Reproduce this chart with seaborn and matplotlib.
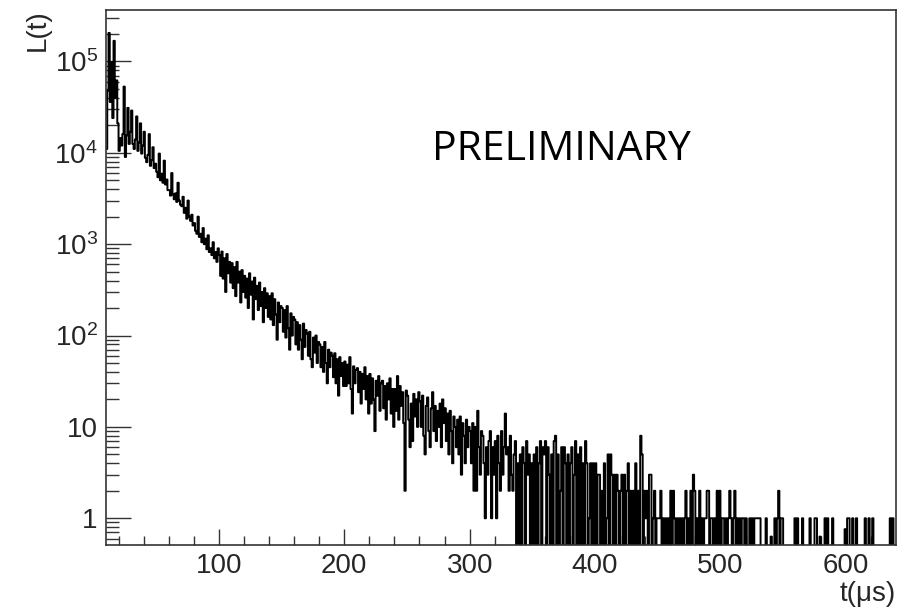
import numpy as np
import pandas as pd
import matplotlib
matplotlib.use("Agg")
import matplotlib.pyplot as plt
import seaborn as sns
from matplotlib.ticker import FixedLocator, NullFormatter

# ---------------- data (1 us bins starting at t = 10 us) ----------------
t_first_bin = 10
bin_width = 1

counts_010_049 = [
    11000, 48000, 205000, 36000, 98000, 24000, 168000, 40000, 62000, 21000,
    10500, 14500, 12000, 16000, 53000, 9000, 15500, 31000, 12500, 17000,
    29000, 12500, 11000, 14000, 25000, 10500, 13000, 21000, 9800, 12000,
    17000, 8800, 7900, 9500, 16000, 7200, 8300, 11500, 6800, 7600,
]
counts_050_099 = [
    6200, 5400, 9800, 5000, 5900, 4700, 8200, 4500, 5100, 3900,
    3900, 3400, 6000, 3500, 3100, 3600, 2900, 4700, 3000, 2700,
    2600, 3300, 2200, 2500, 1900, 3000, 2000, 1800, 2100, 1600,
    1700, 1400, 1300, 2000, 1200, 1300, 1050, 1500, 1000, 1150,
    880, 1250, 820, 900, 760, 1050, 700, 820, 640, 900,
]
counts_100_149 = [
    760, 450, 830, 420, 700, 300, 780, 480, 640, 380,
    620, 330, 560, 270, 640, 380, 500, 230, 520, 300,
    450, 260, 420, 200, 480, 280, 390, 150, 430, 250,
    350, 190, 380, 210, 300, 140, 330, 200, 290, 160,
    270, 150, 290, 130, 250, 170, 90, 230, 140, 210,
]
counts_150_199 = [
    200, 110, 190, 95, 210, 120, 70, 175, 100, 160,
    150, 80, 140, 70, 130, 90, 55, 135, 75, 115,
    105, 60, 110, 55, 45, 95, 65, 100, 50, 85,
    80, 45, 75, 40, 85, 50, 30, 70, 45, 65,
    60, 35, 64, 30, 55, 22, 58, 36, 50, 28,
]
counts_200_249 = [
    52, 28, 48, 30, 58, 26, 14, 46, 30, 42,
    44, 24, 40, 18, 38, 26, 45, 20, 36, 14,
    38, 18, 34, 20, 9, 32, 22, 36, 15, 30,
    32, 16, 28, 12, 30, 20, 34, 14, 26, 10,
    26, 15, 36, 12, 28, 17, 24, 11, 2, 25,
]
counts_250_299 = [
    22, 12, 6, 18, 7, 23, 13, 20, 10, 24,
    19, 10, 22, 8, 5, 17, 21, 9, 6, 16,
    24, 9, 17, 7, 15, 10, 18, 6, 20, 11,
    16, 7, 14, 5, 15, 9, 4, 13, 10, 6,
    12, 5, 13, 3, 11, 8, 4, 12, 6, 10,
]
counts_300_349 = [
    9, 4, 11, 2, 10, 2, 15, 6, 3, 9,
    8, 4, 1, 6, 3, 7, 9, 1, 6, 3,
    7, 1, 8, 4, 2, 9, 3, 6, 14, 5,
    6, 2, 8, 3, 2, 5, 7, 0, 4, 0,
    5, 0, 6, 4, 0, 7, 3, 5, 0, 4,
]
counts_350_399 = [
    0, 5, 0, 6, 0, 4, 7, 0, 6, 5,
    7, 0, 6, 3, 0, 5, 0, 7, 8, 0,
    5, 0, 2, 6, 0, 6, 4, 0, 5, 0,
    4, 6, 0, 3, 7, 0, 5, 0, 6, 0,
    4, 0, 7, 4, 0, 1, 4, 0, 4, 0,
]
counts_400_449 = [
    4, 0, 3, 3, 0, 2, 0, 4, 0, 1,
    5, 0, 5, 3, 0, 3, 0, 3, 2, 0,
    2, 3, 0, 3, 0, 2, 4, 0, 2, 0,
    2, 0, 4, 0, 2, 0, 8, 5, 0, 2,
    1, 2, 0, 3, 3, 0, 1, 2, 0, 1,
]
counts_450_499 = [
    1, 1, 2, 0, 1, 0, 1, 0, 1, 0,
    2, 0, 2, 1, 0, 1, 0, 1, 0, 1,
    0, 1, 2, 0, 1, 0, 2, 0, 3, 2,
    0, 1, 0, 2, 0, 1, 0, 1, 1, 2,
    2, 0, 1, 1, 0, 1, 0, 2, 0, 2,
]
counts_500_549 = [
    0, 1, 1, 0, 1, 0, 1, 2, 1, 0,
    1, 2, 0, 1, 0, 1, 0, 1, 1, 0,
    1, 0, 0, 1, 0, 1, 0, 1, 1, 1,
    1, 1, 0, 0, 0, 0, 1, 0, 0, 0,
    0.63, 0, 0, 1, 0, 1, 2, 0, 1, 1,
]
counts_550_599 = [
    0, 0, 0, 0, 0, 0, 0, 0, 0, 1,
    0, 1, 0, 0, 0, 1, 0, 0, 0, 0,
    0, 1, 0, 0, 0, 1, 1, 0, 0, 0.63,
    0, 0, 0, 1, 0, 1, 0, 0, 0, 1,
    0, 0, 0, 0, 0, 0, 0, 0, 0, 0.76,
]
counts_600_639 = [
    0, 1, 1, 0, 0, 1, 0, 0, 1, 0,
    0, 0, 0, 0, 0, 1, 0, 0, 1, 0,
    0, 1, 0, 0, 0, 0, 0, 0, 0, 0,
    0, 0, 0, 0, 0, 1, 0, 1, 0, 0,
]

x_ticks_major = [100, 200, 300, 400, 500, 600]
y_ticks_major = [1, 10, 100, 1000, 10000, 100000]
y_tick_labels = ["1", "10", r"$\mathregular{10^{2}}$", r"$\mathregular{10^{3}}$",
                 r"$\mathregular{10^{4}}$", r"$\mathregular{10^{5}}$"]
x_label = "t(μs)"
y_label = "L(t)"
stamp = "PRELIMINARY"

# ---------------- build table ----------------
counts = np.array(counts_010_049 + counts_050_099 + counts_100_149 + counts_150_199
                  + counts_200_249 + counts_250_299 + counts_300_349 + counts_350_399
                  + counts_400_449 + counts_450_499 + counts_500_549 + counts_550_599
                  + counts_600_639, dtype=float)
edges = t_first_bin + bin_width * np.arange(len(counts) + 1)
df = pd.DataFrame({"t": edges[:-1] + bin_width / 2, "L": counts})

# ---------------- style ----------------
sns.set_style("ticks")
plt.rcParams["font.family"] = ["Liberation Sans", "DejaVu Sans"]
plt.rcParams["mathtext.fontset"] = "custom"
plt.rcParams["mathtext.rm"] = "Liberation Sans"
plt.rcParams["mathtext.it"] = "Liberation Sans:italic"
plt.rcParams["mathtext.bf"] = "Liberation Sans:bold"

fig = plt.figure(figsize=(9.17, 6.09), dpi=100)
ax = fig.add_axes([106 / 917, 64 / 609, 790 / 917, 535.5 / 609])

sns.histplot(data=df, x="t", weights="L", bins=[float(e) for e in edges],
             element="step", fill=False, color="black", linewidth=1.4, ax=ax)

ax.set_yscale("log")
ax.set_xlim(edges[0], edges[-1])
ax.set_ylim(0.51, 3.7e5)

ax.xaxis.set_major_locator(FixedLocator(x_ticks_major))
ax.xaxis.set_minor_locator(FixedLocator(np.arange(20, 640, 20)))
ax.yaxis.set_major_locator(FixedLocator(y_ticks_major))
ax.set_yticklabels(y_tick_labels)
minor_y = [m * 10.0 ** e for e in range(-1, 6) for m in range(2, 10)]
ax.yaxis.set_minor_locator(FixedLocator(minor_y))
ax.yaxis.set_minor_formatter(NullFormatter())
ax.set_xticklabels([str(v) for v in x_ticks_major])

tick_col = "#333333"
ax.tick_params(axis="x", which="major", direction="in", length=11.3, width=1.0,
               labelsize=20, pad=6, color=tick_col, bottom=True, top=False)
ax.tick_params(axis="x", which="minor", direction="in", length=6.5, width=1.0,
               color=tick_col, bottom=True, top=False)
ax.tick_params(axis="y", which="major", direction="in", length=18, width=1.0,
               labelsize=20, pad=6, color=tick_col, left=True, right=False)
ax.tick_params(axis="y", which="minor", direction="in", length=9.4, width=1.0,
               color=tick_col, left=True, right=False)

for s in ax.spines.values():
    s.set_visible(True)
    s.set_color(tick_col)
    s.set_linewidth(1.2)

ax.set_xlabel(x_label, fontsize=20, loc="right")
ax.set_ylabel(y_label, fontsize=20, loc="top")
ax.xaxis.set_label_coords(1.0, -0.068)
ax.yaxis.set_label_coords(-0.07, 1.0)

ax.text((432 - 106) / 790, (545 - 160) / 535.5, stamp, transform=ax.transAxes,
        fontsize=29.5, family=["Open Sans", "DejaVu Sans"], ha="left", va="baseline",
        color="black")

fig.savefig("out.png", dpi=100, facecolor="white")
